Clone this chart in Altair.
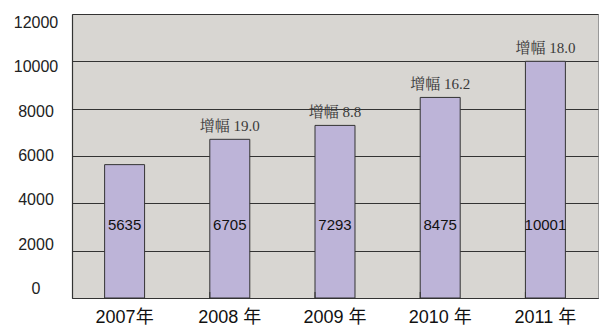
import altair as alt
import pandas as pd

years = ["2007年", "2008 年", "2009 年", "2010 年", "2011 年"]
values = [5635, 6705, 7293, 8475, 10001]
growth = [None, "19.0", "8.8", "16.2", "18.0"]
y_ticks = [0, 2000, 4000, 6000, 8000, 10000, 12000]

df = pd.DataFrame({"year": years, "value": values, "growth": growth})
df["glabel"] = df["growth"].apply(lambda g: "增幅 " + g if g else "")
df["inner_y"] = 3100
ticks_df = pd.DataFrame({"tick": y_ticks})

x_enc = alt.X("year:N", sort=years,
              scale=alt.Scale(paddingInner=0.62, paddingOuter=0.31),
              axis=alt.Axis(title=None, labelAngle=0, labelFontSize=18,
                            labelFont="Liberation Sans, Noto Sans CJK SC",
                            labelColor="#111", ticks=False, labelPadding=10,
                            domainColor="#333", domainWidth=1.2))

y_enc = alt.Y("value:Q",
              scale=alt.Scale(domain=[0, 12000], nice=False),
              axis=alt.Axis(title=None, values=y_ticks, ticks=False, labels=False,
                            gridColor="#333", gridWidth=1, gridOpacity=1,
                            domainColor="#333", domainWidth=1.2))

base = alt.Chart(df)

bars = base.mark_bar(color="#bdb4d8", stroke="#333", strokeWidth=1).encode(
    x=x_enc, y=y_enc)

inner = base.mark_text(fontSize=15, font="Liberation Sans", color="#111").encode(
    x=alt.X("year:N", sort=years),
    y=alt.Y("inner_y:Q"),
    text=alt.Text("value:Q", format="d"))

top = base.transform_filter("datum.glabel != ''").mark_text(
    fontSize=15, font="Liberation Serif, Noto Serif CJK SC, Noto Sans CJK SC",
    color="#3a3a3a", baseline="bottom", dy=-5).encode(
    x=alt.X("year:N", sort=years),
    y=alt.Y("value:Q"),
    text="glabel:N")

ticks = base.transform_filter("datum.glabel != ''").mark_rule(
    color="#333", strokeWidth=1).encode(
    x=alt.X("year:N", sort=years, bandPosition=0),
    y=alt.value(278),
    y2=alt.value(284))

main = alt.layer(bars, ticks, inner, top)

ylabels = alt.Chart(ticks_df).mark_text(
    fontSize=16, font="Liberation Sans", color="#222", align="center").encode(
    x=alt.value(-36),
    y=alt.Y("tick:Q", scale=alt.Scale(domain=[-406, 12406], nice=False,
                                       zero=False), axis=None),
    text=alt.Text("tick:Q", format="d"))

chart = alt.layer(main, ylabels).resolve_scale(y="independent").properties(
    width=526, height=284,
    autosize=alt.AutoSizeParams(type="none"),
    padding={"left": 72, "top": 14, "right": 2, "bottom": 36},
    background="white",
).configure_view(fill="#d8d6d2", stroke="#999", strokeWidth=1)

chart.save("out.html", embed_options={"renderer": "svg", "actions": False})
